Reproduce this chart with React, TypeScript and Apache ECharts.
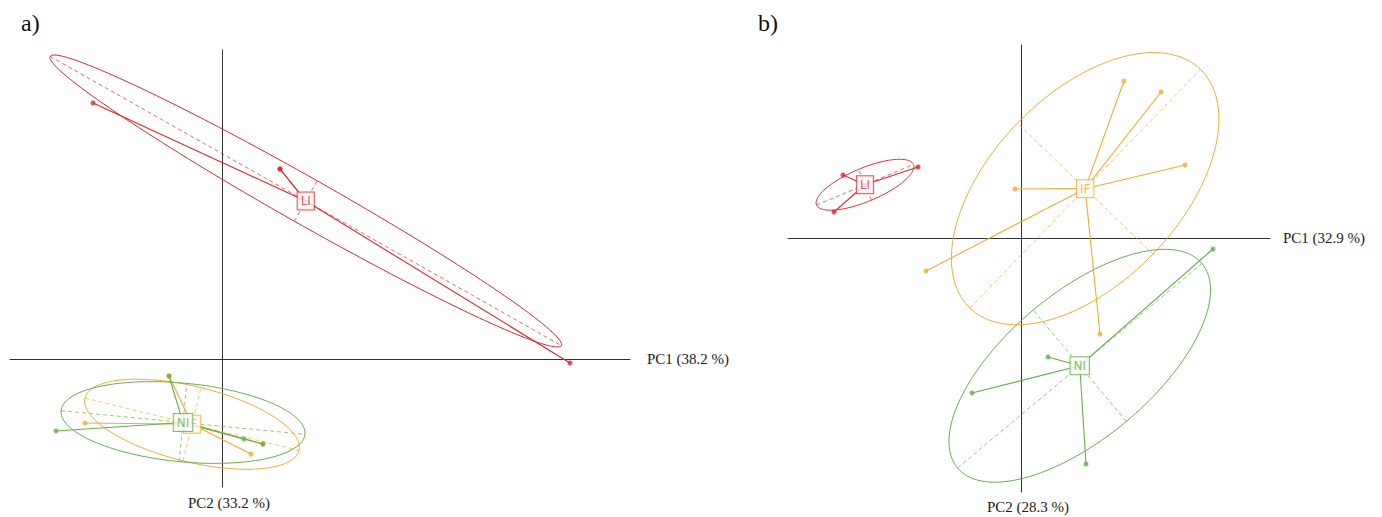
import React, { useEffect, useRef } from "react";
import * as echarts from "echarts";

// Group names (drawing order) and colours
const groupNames = ["IF", "LI", "NI"];
const groupColors = ["#f4aa30", "#e4262b", "#62b04a"];

// Panel a) individual scores per group (PC1, PC2)
const aIF = [[-0.53, -0.17], [-1.37, -0.64], [0.29, -0.95], [0.41, -0.85]];
const aLI = [[-1.29, 2.56], [0.58, 1.9], [0.58, 1.9], [3.48, -0.04]];
const aNI = [[-0.53, -0.17], [-1.66, -0.72], [0.22, -0.8], [0.41, -0.85]];

// Panel b) individual scores per group (PC1, PC2)
const bIF = [[1.03, 1.57], [1.4, 1.46], [1.64, 0.73], [-0.06, 0.49], [-0.95, -0.33], [0.79, -0.96]];
const bLI = [[-1.78, 0.63], [-1.03, 0.71], [-1.87, 0.26], [-1.56, 0.53]];
const bNI = [[1.92, -0.11], [0.27, -1.19], [-0.49, -1.55], [0.65, -2.26]];

// Axis titles
const aAxisNames = ["PC1 (38.2 %)", "PC2 (33.2 %)"];
const bAxisNames = ["PC1 (32.9 %)", "PC2 (28.3 %)"];
const panelTitles = ["a)", "b)"];

// Axis extents
const aXRange = [-2.12, 4.08];
const aYRange = [-1.28, 3.09];
const bXRange = [-2.33, 2.49];
const bYRange = [-2.54, 1.93];

const ELLIPSE_SCALE = 1.5;

function groupStats(pts: number[][]) {
  const n = pts.length;
  let mx = 0, my = 0;
  pts.forEach((p) => { mx += p[0]; my += p[1]; });
  mx /= n; my /= n;
  let sxx = 0, syy = 0, sxy = 0;
  pts.forEach((p) => {
    const dx = p[0] - mx, dy = p[1] - my;
    sxx += dx * dx; syy += dy * dy; sxy += dx * dy;
  });
  sxx /= n; syy /= n; sxy /= n;
  const mid = (sxx + syy) / 2;
  const hd = (sxx - syy) / 2;
  const disc = Math.sqrt(hd * hd + sxy * sxy);
  const l1 = mid + disc;
  const l2 = Math.max(mid - disc, 0);
  const th = 0.5 * Math.atan2(2 * sxy, sxx - syy);
  const v1 = [Math.cos(th), Math.sin(th)];
  const v2 = [-Math.sin(th), Math.cos(th)];
  const a = ELLIPSE_SCALE * Math.sqrt(l1);
  const b = ELLIPSE_SCALE * Math.sqrt(l2);
  const ellipse: number[][] = [];
  const steps = 160;
  for (let i = 0; i <= steps; i++) {
    const t = (i / steps) * Math.PI * 2;
    const ca = a * Math.cos(t), sb = b * Math.sin(t);
    ellipse.push([mx + ca * v1[0] + sb * v2[0], my + ca * v1[1] + sb * v2[1]]);
  }
  const major = [[mx - a * v1[0], my - a * v1[1]], [mx + a * v1[0], my + a * v1[1]]];
  const minor = [[mx - b * v2[0], my - b * v2[1]], [mx + b * v2[0], my + b * v2[1]]];
  return { mean: [mx, my], ellipse, major, minor };
}

function panelSeries(groups: number[][][], idx: number) {
  const ellipses: any[] = [];
  const rest: any[] = [];
  groups.forEach((pts, g) => {
    const color = groupColors[g];
    const s = groupStats(pts);
    ellipses.push({
      type: "line", xAxisIndex: idx, yAxisIndex: idx, data: s.ellipse,
      symbol: "none", showSymbol: false, silent: true, clip: false,
      lineStyle: { color, width: 1 }, z: 2,
    });
    ellipses.push({
      type: "lines", coordinateSystem: "cartesian2d", xAxisIndex: idx, yAxisIndex: idx,
      silent: true,
      data: [{ coords: s.major }, { coords: s.minor }],
      lineStyle: { color, width: 1, type: [4, 3], opacity: 0.7 }, z: 2,
    });
    rest.push({
      type: "lines", coordinateSystem: "cartesian2d", xAxisIndex: idx, yAxisIndex: idx,
      silent: true,
      data: pts.map((p) => ({ coords: [s.mean, p] })),
      lineStyle: { color, width: 1.1, opacity: 1 }, z: 3,
    });
    rest.push({
      type: "scatter", xAxisIndex: idx, yAxisIndex: idx, data: pts,
      symbol: "circle", symbolSize: 5, silent: true,
      itemStyle: { color }, z: 4,
    });
    rest.push({
      type: "scatter", xAxisIndex: idx, yAxisIndex: idx, data: [s.mean],
      symbolSize: 0, silent: true, z: 5,
      label: {
        show: true, position: "inside", formatter: groupNames[g],
        color, fontSize: 12, fontFamily: "DejaVu Sans",
        backgroundColor: "#ffffff", borderColor: color, borderWidth: 1,
        padding: [3, 3, 2, 3],
      },
    });
  });
  return [...ellipses, ...rest];
}

const axisCommon = {
  type: "value",
  splitLine: { show: false },
  axisTick: { show: false },
  axisLabel: { show: false },
  axisLine: { show: true, onZero: true, lineStyle: { color: "#333", width: 1 } },
  nameTextStyle: { fontFamily: "Liberation Serif", fontSize: 15, color: "#1a1a1a" },
};

export default function App() {
  const ref = useRef<HTMLDivElement>(null);
  useEffect(() => {
    if (!ref.current) return;
    const chart = echarts.init(ref.current, null, { renderer: "svg" });
    const option: any = {
      animation: false,
      backgroundColor: "#ffffff",
      grid: [
        { left: 10, top: 50, width: 620, height: 437 },
        { left: 788, top: 45, width: 482, height: 447 },
      ],
      xAxis: [
        { ...axisCommon, gridIndex: 0, min: aXRange[0], max: aXRange[1], name: aAxisNames[0], nameLocation: "end", nameGap: 17 },
        { ...axisCommon, gridIndex: 1, min: bXRange[0], max: bXRange[1], name: bAxisNames[0], nameLocation: "end", nameGap: 13 },
      ],
      yAxis: [
        { ...axisCommon, gridIndex: 0, min: aYRange[0], max: aYRange[1], name: aAxisNames[1], nameLocation: "start", nameGap: 8,
          nameTextStyle: { ...axisCommon.nameTextStyle, padding: [0, 0, 0, 14] } },
        { ...axisCommon, gridIndex: 1, min: bYRange[0], max: bYRange[1], name: bAxisNames[1], nameLocation: "start", nameGap: 7,
          nameTextStyle: { ...axisCommon.nameTextStyle, padding: [0, 0, 0, 14] } },
      ],
      graphic: [
        { type: "text", left: 21, top: 11, style: { text: panelTitles[0], font: '24px "Liberation Serif"', fill: "#111" } },
        { type: "text", left: 758, top: 11, style: { text: panelTitles[1], font: '24px "Liberation Serif"', fill: "#111" } },
      ],
      series: [...panelSeries([aIF, aLI, aNI], 0), ...panelSeries([bIF, bLI, bNI], 1)],
    };
    chart.setOption(option);
    return () => chart.dispose();
  }, []);
  return (
    <div
      ref={ref}
      style={{ position: "absolute", left: 0, top: 0, width: 1382, height: 517, background: "#fff" }}
    />
  );
}
